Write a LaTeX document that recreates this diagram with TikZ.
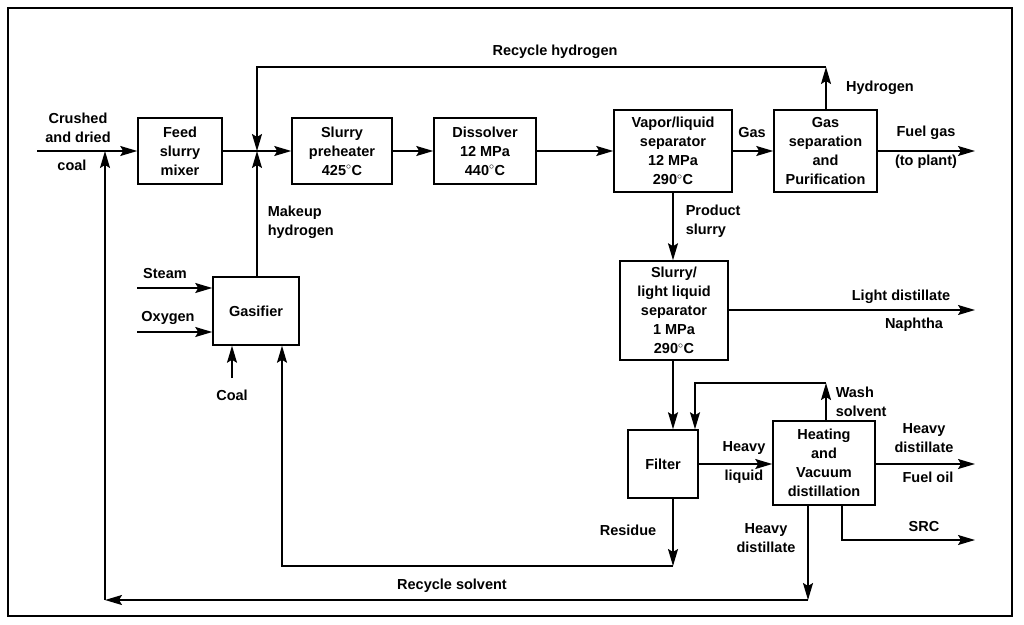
\documentclass[tikz,border=0pt]{standalone}
\usepackage{fontspec}
\setmainfont{Liberation Sans}
\usetikzlibrary{arrows.meta}
\begin{document}
\begin{tikzpicture}[x=1pt,y=-1pt,
  line width=1.5pt,
  font=\fontsize{14.5}{19}\selectfont\bfseries,
  >={Stealth[length=17pt,width=10pt,inset=3pt]},
  ar/.style={->},
  box/.style={draw,align=center,inner sep=0pt},
  lab/.style={align=center,inner sep=1pt}]
\useasboundingbox (0,0) rectangle (1024,624);
\fill[white] (0,0) rectangle (1024,624);
\draw[line width=2.5pt] (8,8) rectangle (1012,616);
% boxes
\node[box,minimum width=84pt,minimum height=66pt] (mix) at (180,151) {Feed\\slurry\\mixer};
\node[box,minimum width=100pt,minimum height=66pt] (pre) at (342,151) {Slurry\\preheater\\425$^\circ$C};
\node[box,minimum width=102pt,minimum height=66pt] (dis) at (485,151) {Dissolver\\12 MPa\\440$^\circ$C};
\node[box,minimum width=118pt,minimum height=82pt] (vls) at (673,151) {Vapor/liquid\\separator\\12 MPa\\290$^\circ$C};
\node[box,minimum width=103pt,minimum height=82pt] (gsp) at (825.5,151) {Gas\\separation\\and\\Purification};
\node[box,minimum width=108pt,minimum height=99pt] (sls) at (674,310.5) {Slurry/\\light liquid\\separator\\1 MPa\\290$^\circ$C};
\node[box,minimum width=86pt,minimum height=68pt] (gas) at (256,311) {Gasifier};
\node[box,minimum width=70pt,minimum height=68pt] (fil) at (663,464) {Filter};
\node[box,minimum width=102pt,minimum height=84pt] (hvd) at (824,463) {Heating\\and\\Vacuum\\distillation};
% coordinates
\coordinate (j1) at (257,151);
\coordinate (cin) at (37,151);
\coordinate (rh1) at (826,67);
\coordinate (rh2) at (257,67);
\coordinate (fg) at (975,151);
\coordinate (ld) at (975,310);
\coordinate (ws) at (826,383);
\coordinate (ws2) at (695,383);
\coordinate (fo) at (975,464);
\coordinate (src1) at (842,540);
\coordinate (src2) at (975,540);
\coordinate (hd) at (808,600);
\coordinate (rs) at (105,600);
\coordinate (rs2) at (105,151);
\coordinate (res) at (673,566);
\coordinate (res2) at (282,566);
\coordinate (st) at (137,288);
\coordinate (ox) at (137,332);
\coordinate (cl) at (232,378);
% connectors
\draw[ar] (cin) -- (mix.west);
\draw[ar] (rs) -- (rs2);
\draw (mix.east) -- (j1);
\draw[ar] (j1) -- (pre.west);
\draw[ar] (gsp.north -| rh1) -- (rh1);
\draw[ar] (rh1) -- (rh2) -- (j1);
\draw[ar] (gas.north -| j1) -- (j1);
\draw[ar] (pre.east |- j1) -- (dis.west |- j1);
\draw[ar] (dis.east |- j1) -- (vls.west |- j1);
\draw[ar] (vls.east |- j1) -- (gsp.west |- j1);
\draw[ar] (gsp.east |- j1) -- (fg);
\draw[ar] (vls.south) -- (sls.north -| vls.south);
\draw[ar] (sls.east |- ld) -- (ld);
\draw[ar] (sls.south -| vls.south) -- (fil.north -| vls.south);
\draw[ar] (hvd.north -| ws) -- (ws);
\draw[ar] (ws) -- (ws2) -- (fil.north -| ws2);
\draw[ar] (fil.east |- fo) -- (hvd.west |- fo);
\draw[ar] (hvd.east |- fo) -- (fo);
\draw[ar] (hvd.south -| src1) -- (src1) -- (src2);
\draw[ar] (hvd.south -| hd) -- (hd);
\draw[ar] (hd) -- (rs);
\draw[ar] (fil.south -| res) -- (res);
\draw[ar] (res) -- (res2) -- (gas.south -| res2);
\draw[ar] (st) -- (gas.west |- st);
\draw[ar] (ox) -- (gas.west |- ox);
\draw[ar] (cl) -- (gas.south -| cl);
% labels
\node[lab] (l1) at (555,52) {Recycle hydrogen};
\node[lab] (l2) at (880,88) {Hydrogen};
\node[lab] (l3) at (752,133) {Gas};
\node[lab] (l4) at (926,133) {Fuel gas};
\node[lab] (l5) at (926,162) {(to plant)};
\node[lab] (l6) at (78,128) {Crushed\\and dried};
\node[lab] (l7) at (72,165) {coal};
\node[lab,align=left,anchor=west] (l8) at (266,222) {Makeup\\hydrogen};
\node[lab,align=left,anchor=west] (l9) at (684,221) {Product\\slurry};
\node[lab] (l10) at (901,297) {Light distillate};
\node[lab] (l11) at (914,325) {Naphtha};
\node[lab] (l12) at (165,274) {Steam};
\node[lab] (l13) at (168,318) {Oxygen};
\node[lab] (l14) at (232,395) {Coal};
\node[lab,align=left,anchor=west] (l15) at (834,402) {Wash\\solvent};
\node[lab] (l16) at (744,448) {Heavy};
\node[lab] (l17) at (744,477) {liquid};
\node[lab] (l18) at (924,438) {Heavy\\distillate};
\node[lab] (l19) at (928,477) {Fuel oil};
\node[lab] (l20) at (924,526) {SRC};
\node[lab] (l21) at (628,530) {Residue};
\node[lab] (l22) at (766,538) {Heavy\\distillate};
\node[lab] (l23) at (452,586) {Recycle solvent};
\end{tikzpicture}
\end{document}
